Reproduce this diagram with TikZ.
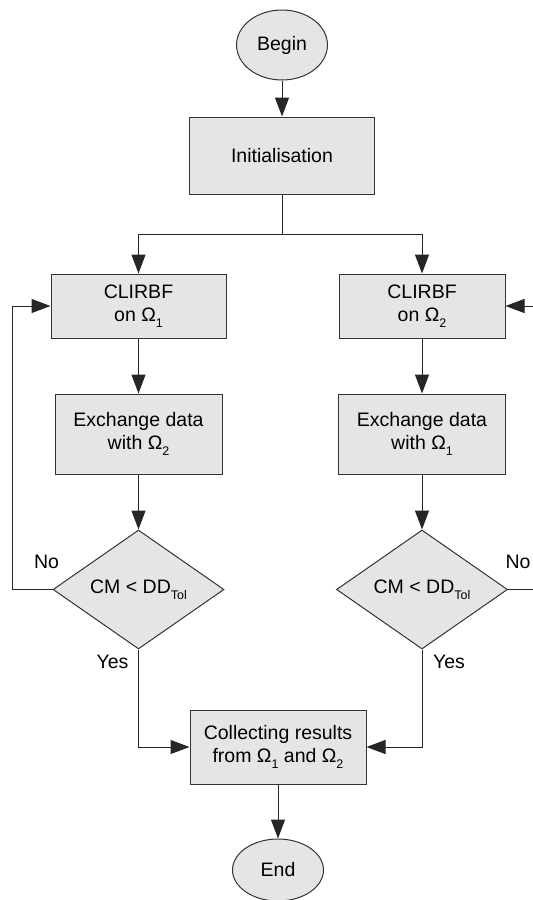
\documentclass[tikz,border=0pt]{standalone}
\usepackage{fontspec}
\setmainfont{Liberation Sans}
\usetikzlibrary{shapes.geometric, arrows.meta, positioning}
\newcommand{\flowfont}{\fontsize{19.5}{22.5}\selectfont}
\newcommand{\lowidx}[1]{\raisebox{-6pt}{\fontsize{12.5}{12.5}\selectfont #1}}
\tikzstyle{term_node} = [ellipse, minimum width=91pt, minimum height=70pt, line width=1pt, draw=black!80, fill=black!10, font=\flowfont]
\tikzstyle{proc_node} = [rectangle, minimum width=167pt, minimum height=80pt, align=center, line width=1pt, draw=black!80, fill=black!10, font=\flowfont]
\tikzstyle{test_node} = [diamond, aspect=1.44, minimum width=171pt, minimum height=119pt, inner sep=1pt, line width=1pt, draw=black!80, fill=black!10, font=\flowfont]
\tikzstyle{flow_arrow} = [line width=1pt, black!85, -{Triangle[length=19pt, width=14pt]}]
\tikzstyle{flow_label} = [font=\flowfont, inner sep=0pt, anchor=base]

\begin{document}
\begin{tikzpicture}[x=1pt, y=1pt]
    \useasboundingbox (0,0) rectangle (533,-900);
    \node (begin) [term_node] at (282,-45) {Begin};
    \node (init) [proc_node, minimum width=185pt, minimum height=77pt, below=36pt of begin] {Initialisation};
    \node (clirbf1) [proc_node, minimum width=175pt, minimum height=64pt] at (138.5,-306) {CLIRBF\\on Ω\lowidx{1}};
    \node (clirbf2) [proc_node, minimum width=166pt, minimum height=64pt] at (422,-306) {CLIRBF\\on Ω\lowidx{2}};
    \node (exch1) [proc_node, below=55pt of clirbf1] {Exchange data\\with Ω\lowidx{2}};
    \node (exch2) [proc_node, below=55pt of clirbf2] {Exchange data\\with Ω\lowidx{1}};
    \node (test1) [test_node, below=55pt of exch1] {CM < DD\lowidx{Tol}};
    \node (test2) [test_node, below=55pt of exch2] {CM < DD\lowidx{Tol}};
    \node (collect) [proc_node, minimum width=176pt, minimum height=74pt] at (278,-747) {Collecting results\\from Ω\lowidx{1} and Ω\lowidx{2}};
    \node (end) [term_node, minimum height=62pt, below=54pt of collect] {End};

    \node (no1) [flow_label] at ([xshift=-6pt, yshift=21pt]test1.west) {No};
    \node (no2) [flow_label] at ([xshift=10pt, yshift=21pt]test2.east) {No};
    \node (yes1) [flow_label] at ([xshift=-26pt, yshift=-19pt]test1.south) {Yes};
    \node (yes2) [flow_label] at ([xshift=27pt, yshift=-19pt]test2.south) {Yes};

    \draw [flow_arrow] (begin) -- (init);
    \draw [flow_arrow] (init.south) -- ++(0,-40) -| (clirbf1.north);
    \draw [flow_arrow] (init.south) -- ++(0,-40) -| (clirbf2.north);
    \draw [flow_arrow] (clirbf1) -- (exch1);
    \draw [flow_arrow] (clirbf2) -- (exch2);
    \draw [flow_arrow] (exch1) -- (test1);
    \draw [flow_arrow] (exch2) -- (test2);
    \draw [flow_arrow] (test1.west) -- ++(-40,0) |- (clirbf1.west);
    \draw [flow_arrow] (test2.east) -- ++(45,0) |- (clirbf2.east);
    \draw [flow_arrow] (test1.south) |- (collect.west);
    \draw [flow_arrow] (test2.south) |- (collect.east);
    \draw [flow_arrow] (collect) -- (end);
\end{tikzpicture}
\end{document}
